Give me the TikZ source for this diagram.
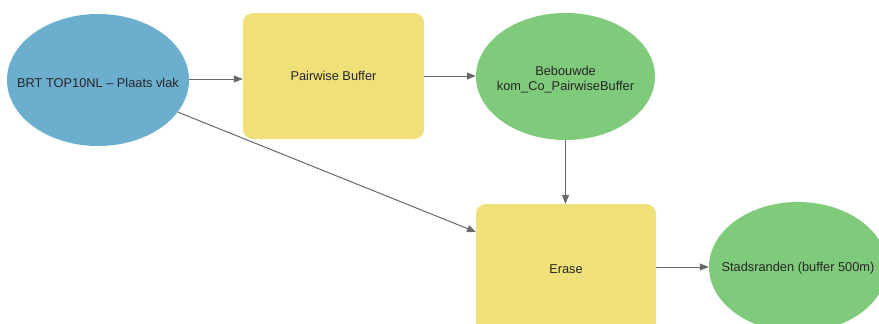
\documentclass[tikz,border=0pt]{standalone}
\usepackage{fontspec}
\setmainfont{Liberation Sans}
\usetikzlibrary{arrows.meta,shapes.geometric}
\definecolor{dsblue}{RGB}{107,174,206}
\definecolor{dsgreen}{RGB}{128,203,123}
\definecolor{toolyellow}{RGB}{240,224,122}
\definecolor{linegray}{RGB}{105,105,105}
\tikzset{
  dataset/.style={ellipse, draw=none, inner sep=0pt},
  lbl/.style={align=center, inner sep=0pt, text=black!85, font=\fontsize{12.8}{15}\selectfont},
  tool/.style={rectangle, rounded corners=10pt, fill=toolyellow, draw=none, inner sep=0pt, align=center, text=black!85, font=\fontsize{12.8}{15}\selectfont},
  flow/.style={draw=linegray, line width=1pt, -{Triangle[length=9pt,width=7pt]}}
}
\begin{document}
\begin{tikzpicture}[x=1pt,y=-1pt]
\useasboundingbox (0,0) rectangle (879,324);
\clip (0,0) rectangle (879,324);
\fill[white] (0,0) rectangle (879,324);
\node[dataset, fill=dsblue, minimum width=182pt, minimum height=132pt,
  label={[lbl, yshift=-3pt]center:BRT TOP10NL -- Plaats vlak}] (brt) at (98,80) {};
\node[tool, minimum width=181pt, minimum height=126pt, text depth=-2pt] (pb) at (333.5,76) {Pairwise Buffer};
\node[dataset, fill=dsgreen, minimum width=179pt, minimum height=127pt,
  label={[lbl, yshift=-3pt]center:Bebouwde\\kom\_Co\_PairwiseBuffer}] (bk) at (565.5,76.5) {};
\node[tool, minimum width=180pt, minimum height=130pt] (er) at (566,269) {Erase};
\node[dataset, fill=dsgreen, minimum width=178pt, minimum height=130pt,
  label={[lbl, yshift=-1.5pt]center:Stadsranden (buffer 500m)}] (sr) at (798,267) {};
\coordinate (erin) at (476,232);
\draw[flow] (brt.east |- 0,79) -- (pb.west |- 0,79);
\draw[flow] (pb.east |- 0,76) -- (bk.west |- 0,76);
\draw[flow] (brt) -- (erin);
\draw[flow] (bk.south) -- (er.north -| bk.south);
\draw[flow] (er.east |- 0,267) -- (sr.west |- 0,267);
\end{tikzpicture}
\end{document}
